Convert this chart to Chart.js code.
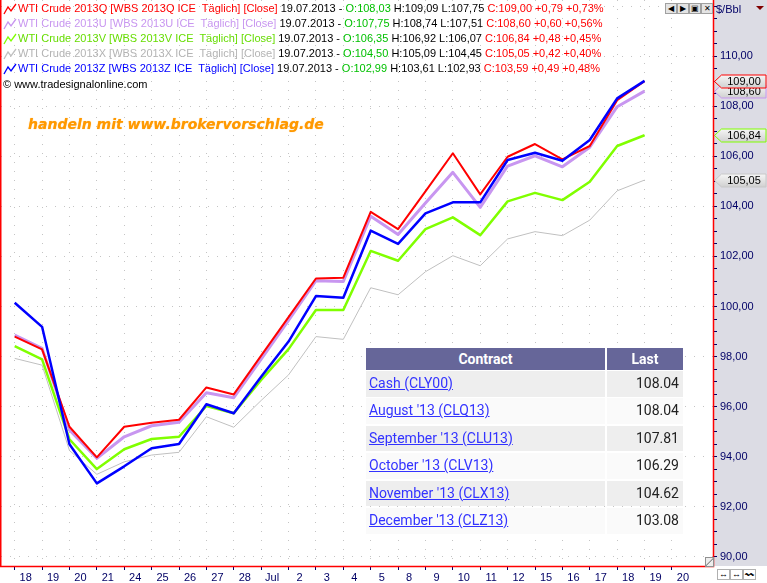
<!DOCTYPE html>
<html>
<head>
<meta charset="utf-8">
<script src="https://cdn.jsdelivr.net/npm/chart.js@4.4.0/dist/chart.umd.min.js"></script>
<style>
  html, body { margin: 0; padding: 0; background: #fff; }
  #wrap { position: relative; width: 767px; height: 583px; overflow: hidden;
          font-family: "Liberation Sans", Arial, sans-serif; }
  #chart { position: absolute; left: 0; top: 0; }
  .leg { position: absolute; left: 18px; font-size: 11px; line-height: 13px; white-space: pre; color: #000; }
  .leg svg { position: absolute; left: -15px; top: 1px; }
  .g { color: #00c000; }
  .r { color: #ff0000; }
  #copy { position: absolute; left: 3px; top: 78px; font-size: 11px; line-height: 13px; }
  #promo { position: absolute; left: 28px; top: 116px; font-family: "DejaVu Sans", sans-serif;
           font-size: 14px; font-weight: bold; font-style: italic; color: #ff9900;
           text-shadow: 0 0 1px #ffb347; white-space: pre; }
  #unit { position: absolute; left: 716px; top: 3px; font-size: 11px; color: #000066; }
  #tri { position: absolute; left: 756px; top: 6px; width: 0; height: 0;
         border-left: 4px solid transparent; border-right: 4px solid transparent; border-top: 4px solid #800000; }
  .btn { position: absolute; width: 10px; height: 9px; border: 1px solid #a0a0a0; background: #e4e4e4;
         font-size: 8px; line-height: 9px; text-align: center; color: #000; }
  .bbtn { position: absolute; top: 569px; width: 11px; height: 9px; border: 1px solid #b0b0b0; background: #fff;
          font-size: 9px; line-height: 9px; text-align: center; color: #000; }
  #grip { position: absolute; left: 705px; top: 557px; width: 7px; height: 8px; border: 1px solid #909090;
          background: linear-gradient(135deg, #eee 45%, #555 50%, #eee 58%); }
  .cell { position: absolute; box-sizing: border-box; font-family: Roboto, sans-serif; font-size: 14px; }
  .hd { background: #666699; color: #fff; font-weight: bold; text-align: center; }
  .lnk { color: #3333ff; text-decoration: underline; padding-left: 3px; }
  .val { color: #222; text-align: right; padding-right: 4px; }
</style>
</head>
<body>
<div id="wrap">
  <canvas id="chart" width="767" height="583" style="width:767px;height:583px"></canvas>
  <div id="legend"></div>
  <div id="copy">© www.tradesignalonline.com</div>
  <div id="promo">handeln mit www.brokervorschlag.de</div>
  <div id="unit">$/Bbl</div>
  <div id="tri"></div>
  <div class="btn" style="left:665px;top:3px">◀</div>
  <div class="btn" style="left:677px;top:3px">▶</div>
  <div class="btn" style="left:689px;top:3px">▣</div>
  <div class="btn" style="left:701px;top:3px">✕</div>
  <div class="bbtn" style="left:717px">↔</div>
  <div class="bbtn" style="left:730px">↔</div>
  <div class="bbtn" style="left:743px">〰</div>
  <div id="grip"></div>
  <div id="table"></div>
</div>
<script>
// trading days, June 18 to July 19 (2013); "20" and the empty slot are future bars
const dayLabels = ['18', '19', '20', '21', '24', '25', '26', '27', '28', 'Jul', '2', '3', '4', '5',
  '8', '9', '10', '11', '12', '15', '16', '17', '18', '19', '20', ''];

const seriesQ = [98.80, 98.29, 95.20, 93.98, 95.20, 95.36, 95.48, 96.77, 96.49, 98.04, 99.58, 101.12,
  101.15, 103.78, 103.09, 104.60, 106.12, 104.48, 105.98, 106.49, 105.88, 106.41, 108.24, 109.00];
const seriesU = [98.86, 98.33, 95.07, 93.94, 94.80, 95.24, 95.38, 96.56, 96.36, 97.90, 99.45, 101.03,
  101.00, 103.61, 102.88, 104.13, 105.36, 103.96, 105.61, 106.02, 105.58, 106.36, 107.98, 108.60];
const seriesV = [98.42, 97.89, 94.70, 93.51, 94.30, 94.71, 94.80, 96.03, 95.74, 97.07, 98.30, 99.86,
  99.86, 102.22, 101.83, 103.09, 103.56, 102.85, 104.20, 104.54, 104.25, 104.98, 106.41, 106.84];
const seriesX = [97.93, 97.66, 94.25, 93.30, 93.80, 94.07, 94.18, 95.60, 95.18, 96.25, 97.27, 98.80,
  98.69, 100.75, 100.47, 101.39, 102.03, 101.63, 102.70, 102.99, 102.83, 103.45, 104.62, 105.05];
const seriesZ = [100.15, 99.19, 94.50, 92.94, 93.62, 94.34, 94.51, 96.10, 95.74, 97.20, 98.60, 100.42,
  100.35, 103.03, 102.50, 103.72, 104.16, 104.16, 105.85, 106.14, 105.82, 106.65, 108.31, 109.01];

// header values (19.07.2013)
const codes = ['Q', 'U', 'V', 'X', 'Z'];
const colors = ['#ff0000', '#c896f0', '#80ff00', '#c0c0c0', '#0000ff'];
const textColors = ['#ff0000', '#c896f0', '#66dd00', '#b4b4b4', '#0000ff'];
const opens = [108.03, 107.75, 106.35, 104.50, 102.99];
const highs = [109.09, 108.74, 106.92, 105.09, 103.61];
const lows = [107.75, 107.51, 106.07, 104.45, 102.93];
const closes = [109.00, 108.60, 106.84, 105.05, 103.59];
const changes = [0.79, 0.60, 0.48, 0.42, 0.49];
const pcts = [0.73, 0.56, 0.45, 0.40, 0.48];

// quote table
const contractNames = ['Cash (CLY00)', "August '13 (CLQ13)", "September '13 (CLU13)",
  "October '13 (CLV13)", "November '13 (CLX13)", "December '13 (CLZ13)"];
const contractLast = ['108.04', '108.04', '107.81', '106.29', '104.62', '103.08'];

const yMin = 89.64;
const yMax = 112.24;

const fmt = v => v.toFixed(2).replace('.', ',');
const isMajor = v => Math.abs(v / 2 - Math.round(v / 2)) < 1e-6;
const isHalf = v => Math.abs(v * 2 - Math.round(v * 2)) < 1e-6;
const last = a => a[a.length - 1];

// legend rows
const legend = document.getElementById('legend');
codes.forEach((c, i) => {
  const row = document.createElement('div');
  row.className = 'leg';
  row.style.top = (2 + i * 15) + 'px';
  row.innerHTML =
    `<svg width="14" height="12"><polyline points="1,11 5,4 8,8 13,1" fill="none" stroke="${colors[i]}" stroke-width="1.3"/></svg>` +
    `<span style="color:${textColors[i]}">WTI Crude 2013${c} [WBS 2013${c} ICE  Täglich] [Close]</span>` +
    ` 19.07.2013 - <span class="g">O:${fmt(opens[i])}</span> H:${fmt(highs[i])} L:${fmt(lows[i])} ` +
    `<span class="r">C:${fmt(closes[i])} +${fmt(changes[i])} +${fmt(pcts[i])}%</span>`;
  legend.appendChild(row);
});

// quote table
const table = document.getElementById('table');
function cell(cls, x, y, w, h, html, bg) {
  const d = document.createElement('div');
  d.className = 'cell ' + cls;
  d.style.left = x + 'px'; d.style.top = y + 'px';
  d.style.width = w + 'px'; d.style.height = h + 'px';
  d.style.lineHeight = h + 'px';
  if (bg) d.style.background = bg;
  d.innerHTML = html;
  table.appendChild(d);
}
cell('hd', 366, 348, 239, 22, 'Contract');
cell('hd', 607, 348, 76, 22, 'Last');
contractNames.forEach((name, i) => {
  const top = 371 + i * 27.4;
  const bg = i % 2 === 0 ? '#eeeeee' : '#fafafa';
  cell('lnk', 366, top, 239, 25.5, name, bg);
  cell('val', 607, top, 76, 25.5, contractLast[i], bg);
});

const tags = [
  { value: last(seriesU), color: colors[1] },
  { value: last(seriesQ), color: colors[0] },
  { value: last(seriesV), color: colors[2] },
  { value: last(seriesX), color: '#c8c8c8' }
];

const chromePlugin = {
  id: 'chrome',
  beforeDraw(chart) {
    const { ctx, chartArea: a } = chart;
    ctx.save();
    ctx.fillStyle = '#dcdce4';
    ctx.fillRect(a.right, 0, chart.width - a.right, a.bottom);
    ctx.restore();
  },
  afterDraw(chart) {
    const { ctx, chartArea: a } = chart;
    const y = chart.scales.y;
    ctx.save();
    tags.forEach(t => {
      const py = Math.round(y.getPixelForValue(t.value)) + 0.5;
      const x0 = a.right + 1.5, x1 = x0 + 7, x2 = 766, h = 6.5;
      ctx.beginPath();
      ctx.moveTo(x0, py);
      ctx.lineTo(x1, py - h);
      ctx.lineTo(x2, py - h);
      ctx.lineTo(x2, py + h);
      ctx.lineTo(x1, py + h);
      ctx.closePath();
      const g = ctx.createLinearGradient(0, py - h, 0, py + h);
      g.addColorStop(0, '#f6f6f6');
      g.addColorStop(1, '#d0d0d0');
      ctx.fillStyle = g;
      ctx.fill();
      ctx.strokeStyle = t.color;
      ctx.lineWidth = 1;
      ctx.stroke();
      ctx.fillStyle = '#000';
      ctx.font = '11px "Liberation Sans", Arial, sans-serif';
      ctx.textAlign = 'center';
      ctx.textBaseline = 'middle';
      ctx.fillText(fmt(t.value), 744, py + 0.5);
    });
    // red frame
    ctx.strokeStyle = '#ff0000';
    ctx.lineWidth = 1.5;
    ctx.beginPath();
    ctx.moveTo(0.75, 0);
    ctx.lineTo(0.75, a.bottom + 0.5);
    ctx.lineTo(a.right + 0.5, a.bottom + 0.5);
    ctx.lineTo(a.right + 0.5, 0);
    ctx.stroke();
    ctx.restore();
  }
};

const axisFont = { family: '"Liberation Sans", Arial, sans-serif', size: 11 };

new Chart(document.getElementById('chart'), {
  type: 'line',
  data: {
    labels: dayLabels,
    datasets: [
      { label: 'WTI Crude 2013Z', data: seriesZ, borderColor: colors[4], borderWidth: 2.5, order: 0 },
      { label: 'WTI Crude 2013Q', data: seriesQ, borderColor: colors[0], borderWidth: 2, order: 1 },
      { label: 'WTI Crude 2013U', data: seriesU, borderColor: colors[1], borderWidth: 3, order: 2 },
      { label: 'WTI Crude 2013V', data: seriesV, borderColor: colors[2], borderWidth: 2.5, order: 3 },
      { label: 'WTI Crude 2013X', data: seriesX, borderColor: colors[3], borderWidth: 1, order: 4 }
    ]
  },
  options: {
    responsive: false,
    animation: false,
    layout: { padding: { left: 1, top: 0, right: 0, bottom: 0 } },
    plugins: { legend: { display: false }, tooltip: { enabled: false } },
    elements: { point: { radius: 0 }, line: { tension: 0, borderJoinStyle: 'round' } },
    scales: {
      x: {
        type: 'category',
        offset: true,
        grid: {
          color: c => c.index < 25 ? '#c4c4c4' : 'transparent',
          tickColor: c => c.index < 25 ? '#000066' : 'transparent',
          tickLength: 4,
          offset: false
        },
        border: { display: false, dash: [1, 8] },
        ticks: { autoSkip: false, maxRotation: 0, labelOffset: 11, padding: 1, color: '#000066', font: axisFont },
        afterFit: s => { s.height = 17; s.paddingLeft = 0; s.paddingRight = 0; }
      },
      y: {
        position: 'right',
        min: yMin,
        max: yMax,
        grid: {
          color: c => isMajor(c.tick.value) ? '#c4c4c4' : 'transparent',
          tickColor: c => isHalf(c.tick.value) ? '#000066' : 'transparent',
          tickLength: 4
        },
        border: { display: false, dash: [1, 8] },
        ticks: {
          stepSize: 0.5,
          includeBounds: false,
          autoSkip: false,
          padding: 3,
          color: '#000066',
          font: axisFont,
          callback: v => (isMajor(v) && v < 111) ? fmt(v) : ''
        },
        afterFit: s => { s.width = 54; s.paddingTop = 0; s.paddingBottom = 0; }
      }
    }
  },
  plugins: [chromePlugin]
});
</script>
</body>
</html>
